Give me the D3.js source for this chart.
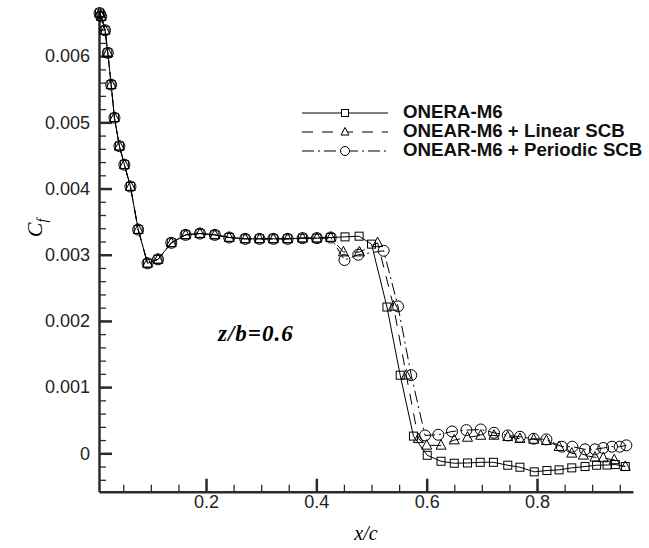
<!DOCTYPE html>
<html>
<head>
<meta charset="utf-8">
<script src="https://cdn.jsdelivr.net/npm/d3@7"></script>
<style>
  body { margin: 0; background: #fff; }
  svg { display: block; }
</style>
</head>
<body>
<svg id="chart" width="649" height="548"></svg>
<script>
// shared leading part (all three runs sit on top of each other here)
var xShared  = [0.007, 0.010, 0.017, 0.022, 0.028, 0.034, 0.043, 0.052, 0.063, 0.077, 0.094, 0.113,
                0.137, 0.163, 0.189, 0.216, 0.242, 0.271, 0.297, 0.322, 0.348, 0.375, 0.401, 0.426];
var cfShared = [0.00665, 0.00660, 0.00639, 0.00605, 0.00557, 0.00507, 0.00464, 0.00436, 0.00403, 0.00338, 0.00287, 0.00293,
                0.00318, 0.00330, 0.00332, 0.00330, 0.00326, 0.00324, 0.00324, 0.00324, 0.00324, 0.00325, 0.00325, 0.00326];

// ONERA-M6 (squares)
var xOnera  = [0.452, 0.4775, 0.500, 0.528, 0.552, 0.576, 0.601, 0.626, 0.650, 0.674, 0.697, 0.721,
               0.747, 0.769, 0.795, 0.818, 0.840, 0.863, 0.887, 0.908, 0.927, 0.942, 0.960];
var cfOnera = [0.00327, 0.00328, 0.00316, 0.00221, 0.00118, 0.00026, -0.00003, -0.00012, -0.00015, -0.000146, -0.000136, -0.000136,
               -0.00018, -0.00021, -0.00028, -0.00026, -0.00025, -0.00022, -0.00020, -0.00018, -0.000177, -0.00017, -0.00020];

// + Linear SCB (triangles)
var xLinear  = [0.449, 0.478, 0.511, 0.540, 0.563, 0.585, 0.600, 0.626, 0.650, 0.674, 0.698, 0.722,
                0.747, 0.769, 0.794, 0.817, 0.840, 0.863, 0.884, 0.905, 0.920, 0.940, 0.960];
var cfLinear = [0.00304, 0.00304, 0.00318, 0.00222, 0.00118, 0.00022, 0.00012, 0.00012, 0.00020, 0.00024, 0.00027, 0.00027,
                0.00025, 0.00022, 0.00021, 0.00019, 0.00010, 0.00000, -0.00003, -0.00006, -0.00007, -0.00010, -0.00020];

// + Periodic SCB (circles)
var xPeriodic  = [0.451, 0.476, 0.522, 0.548, 0.572, 0.597, 0.621, 0.646, 0.672, 0.698, 0.722, 0.747,
                  0.769, 0.794, 0.817, 0.845, 0.864, 0.887, 0.905, 0.920, 0.936, 0.950, 0.962];
var cfPeriodic = [0.00292, 0.00300, 0.00306, 0.00222, 0.00118, 0.00027, 0.00028, 0.00033, 0.00035, 0.00036, 0.00031, 0.00027,
                  0.00025, 0.00022, 0.00021, 0.00010, 0.00010, 0.00006, 0.00006, 0.00008, 0.00010, 0.00010, 0.00012];

var seriesNames = ["ONERA-M6", "ONEAR-M6 + Linear SCB", "ONEAR-M6 + Periodic SCB"];
var xTickVals = [0.2, 0.4, 0.6, 0.8];
var yTickVals = [0, 0.001, 0.002, 0.003, 0.004, 0.005, 0.006];

function zipPts(xs, ys) {
  return xs.map(function(v, i) { return [v, ys[i]]; });
}

var series = [
  { name: seriesNames[0], pts: zipPts(xShared.concat(xOnera), cfShared.concat(cfOnera)), dash: null, sym: "square" },
  { name: seriesNames[1], pts: zipPts(xShared.concat(xLinear), cfShared.concat(cfLinear)), dash: "11,9", sym: "triangle" },
  { name: seriesNames[2], pts: zipPts(xShared.concat(xPeriodic), cfShared.concat(cfPeriodic)), dash: "12,4,2,4", sym: "circle" }
];

var svg = d3.select("#chart");

var x = d3.scaleLinear().domain([0.006, 0.974]).range([99, 633]);
var y = d3.scaleLinear().domain([-0.00058, 0.0067]).range([491.7, 9.8]);

var axisColor = "#2b2b2b";
var tickFont = "Liberation Sans, Arial, sans-serif";

// minor ticks first
svg.append("g")
  .attr("transform", "translate(0," + y.range()[0] + ")")
  .call(d3.axisBottom(x).tickValues(d3.range(0.05, 0.97, 0.05)).tickSize(-7).tickSizeOuter(0).tickFormat(""))
  .call(function(g) { g.select(".domain").remove(); g.selectAll("line").attr("stroke", axisColor).attr("stroke-width", 1.3); });

svg.append("g")
  .attr("transform", "translate(" + x.range()[0] + ",0)")
  .call(d3.axisLeft(y).tickValues(d3.range(-0.0004, 0.0066, 0.0002)).tickSize(-7).tickSizeOuter(0).tickFormat(""))
  .call(function(g) { g.select(".domain").remove(); g.selectAll("line").attr("stroke", axisColor).attr("stroke-width", 1.3); });

// major ticks + labels
var xAxis = svg.append("g")
  .attr("transform", "translate(0," + y.range()[0] + ")")
  .call(d3.axisBottom(x).tickValues(xTickVals).tickSize(-13).tickSizeOuter(0).tickPadding(4)
    .tickFormat(function(d) { return d3.format(".1f")(d); }));

var yAxis = svg.append("g")
  .attr("transform", "translate(" + x.range()[0] + ",0)")
  .call(d3.axisLeft(y).tickValues(yTickVals).tickSize(-13).tickSizeOuter(0).tickPadding(9)
    .tickFormat(function(d) { return d === 0 ? "0" : d3.format(".3f")(d); }));

[xAxis, yAxis].forEach(function(g) {
  g.select(".domain").attr("stroke", axisColor).attr("stroke-width", 2.5);
  g.selectAll(".tick line").attr("stroke", axisColor).attr("stroke-width", 2.5);
  g.selectAll("text").attr("fill", "#222").style("font-family", tickFont).style("font-size", "18px");
});

// curves
var line = d3.line()
  .x(function(d) { return x(d[0]); })
  .y(function(d) { return y(d[1]); });

series.forEach(function(s) {
  svg.append("path")
    .datum(s.pts)
    .attr("d", line)
    .attr("fill", "none")
    .attr("stroke", "#000")
    .attr("stroke-width", 1)
    .attr("stroke-dasharray", s.dash);
});

function drawSym(g, sym, cx, cy, sz) {
  if (sym === "square") {
    g.append("rect").attr("x", cx - sz / 2).attr("y", cy - sz / 2).attr("width", sz).attr("height", sz);
  } else if (sym === "triangle") {
    var h = sz * 0.95;
    g.append("path").attr("d", "M" + cx + "," + (cy - h * 0.6) + "L" + (cx + sz / 2) + "," + (cy + h * 0.4) +
      "L" + (cx - sz / 2) + "," + (cy + h * 0.4) + "Z");
  } else {
    g.append("circle").attr("cx", cx).attr("cy", cy).attr("r", sz / 2);
  }
}

var symSize = { square: 8, triangle: 10, circle: 11 };

series.forEach(function(s) {
  var g = svg.append("g").attr("fill", "none").attr("stroke", "#000").attr("stroke-width", 1);
  s.pts.forEach(function(p) { drawSym(g, s.sym, x(p[0]), y(p[1]), symSize[s.sym]); });
});

// legend
var leg = svg.append("g");
var legSize = { square: 7, triangle: 8, circle: 9 };
series.forEach(function(s, i) {
  var ly = 113 + i * 19;
  leg.append("line")
    .attr("x1", 302).attr("x2", 388).attr("y1", ly).attr("y2", ly)
    .attr("stroke", "#000").attr("stroke-width", 1)
    .attr("stroke-dasharray", s.dash);
  var mg = leg.append("g").attr("fill", "#fff").attr("stroke", "#000").attr("stroke-width", 1);
  drawSym(mg, s.sym, 345, ly, legSize[s.sym]);
  leg.append("text")
    .attr("x", 403).attr("y", ly + 5)
    .style("font-family", tickFont).style("font-weight", "bold").style("font-size", "18.7px")
    .attr("fill", "#111")
    .text(s.name);
});

// annotation
svg.append("text")
  .attr("x", 218).attr("y", 341)
  .style("font-family", "Liberation Serif, Times New Roman, serif")
  .style("font-style", "italic").style("font-weight", "bold").style("font-size", "23px")
  .style("letter-spacing", "1px")
  .text("z/b=0.6");

// axis titles
svg.append("text")
  .attr("x", 366).attr("y", 540)
  .attr("text-anchor", "middle")
  .style("font-family", "Liberation Serif, Times New Roman, serif")
  .style("font-style", "italic").style("font-size", "20px")
  .text("x/c");

var yt = svg.append("text")
  .attr("transform", "translate(42,228) rotate(-90)")
  .attr("text-anchor", "middle")
  .style("font-family", "Liberation Serif, Times New Roman, serif")
  .style("font-style", "italic").style("font-size", "22px");
yt.append("tspan").text("C");
yt.append("tspan").attr("dy", 5).style("font-size", "14px").text("f");
</script>
</body>
</html>
